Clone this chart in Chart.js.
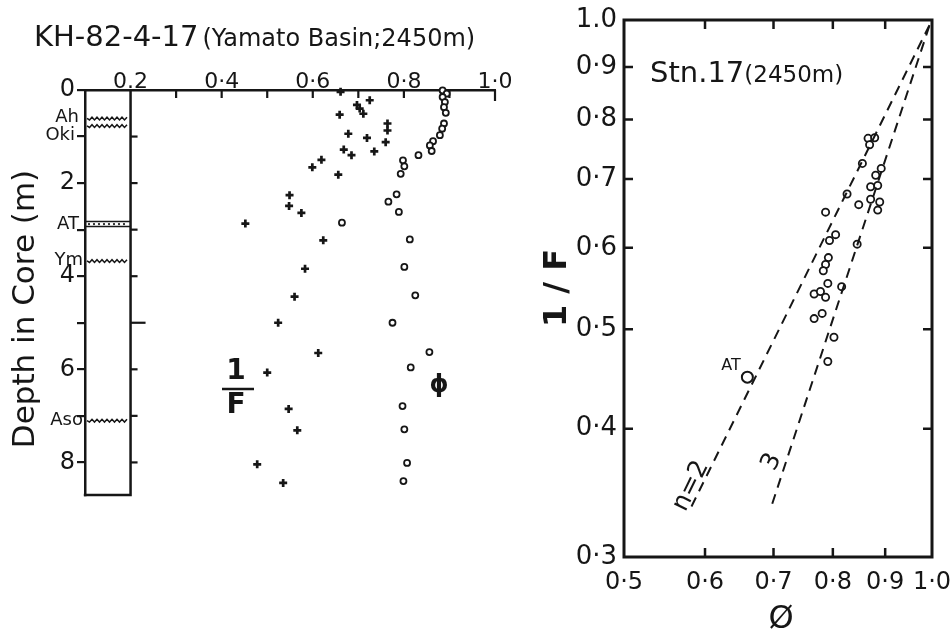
<!DOCTYPE html>
<html>
<head>
<meta charset="utf-8">
<script src="https://cdn.jsdelivr.net/npm/chart.js@4.4.1/dist/chart.umd.min.js"></script>
<style>
  body { margin: 0; background: #fff; }
  #wrap { position: relative; width: 952px; height: 637px; overflow: hidden; }
  canvas { position: absolute; top: 0; }
  #profile { left: 0; }
  #archie { left: 540px; }
</style>
</head>
<body>
<div id="wrap">
  <canvas id="profile" width="520" height="520"></canvas>
  <canvas id="archie" width="412" height="637"></canvas>
</div>
<script>
// ---- left panel: core KH-82-4-17, values against depth (m) ----
const invFDepth = [0.04, 0.22, 0.32, 0.40, 0.51, 0.53, 0.72, 0.87, 0.94, 1.03, 1.12, 1.28, 1.32, 1.40,
                   1.50, 1.66, 1.82, 2.26, 2.49, 2.64, 2.87, 3.23, 3.84, 4.44, 5.00, 5.65, 6.07, 6.85,
                   7.31, 8.04, 8.44];
const invFValue = [0.661, 0.725, 0.697, 0.703, 0.711, 0.659, 0.764, 0.764, 0.678, 0.719, 0.760, 0.668,
                   0.735, 0.685, 0.619, 0.599, 0.656, 0.549, 0.548, 0.575, 0.452, 0.623, 0.583, 0.560,
                   0.524, 0.612, 0.500, 0.547, 0.566, 0.478, 0.535];
const phiDepth = [0.01, 0.08, 0.15, 0.26, 0.37, 0.49, 0.72, 0.83, 0.97, 1.10, 1.19, 1.31, 1.40, 1.51,
                  1.64, 1.80, 2.24, 2.40, 2.62, 2.85, 3.21, 3.80, 4.41, 5.00, 5.63, 5.96, 6.79, 7.29,
                  8.01, 8.40];
const phiValue = [0.885, 0.894, 0.885, 0.890, 0.888, 0.892, 0.888, 0.884, 0.879, 0.864, 0.857, 0.861,
                  0.832, 0.798, 0.801, 0.793, 0.784, 0.766, 0.789, 0.664, 0.813, 0.801, 0.825, 0.775,
                  0.856, 0.815, 0.797, 0.801, 0.807, 0.799];
const tephraNames = ['Ah', 'Oki', 'AT', 'Ym', 'Aso'];
const tephraDepths = [0.61, 0.77, 2.88, 3.67, 7.10];
const profileTickValues = [0.2, 0.4, 0.6, 0.8, 1.0];
const profileTickLabels = ['0.2', '0·4', '0·6', '0·8', '1·0'];
const depthTickLabels = ['0', '2', '4', '6', '8'];

// ---- right panel: Stn.17, 1/F against porosity ----
const crossPhi = [0.787, 0.866, 0.879, 0.869, 0.855, 0.892, 0.881, 0.871, 0.885, 0.826, 0.871, 0.889,
                  0.848, 0.885, 0.805, 0.794, 0.845, 0.792, 0.787, 0.783, 0.791, 0.816, 0.767, 0.778,
                  0.787, 0.767, 0.781, 0.802, 0.791];
const crossInvF = [0.650, 0.767, 0.768, 0.756, 0.725, 0.717, 0.706, 0.688, 0.690, 0.677, 0.669, 0.665,
                   0.661, 0.653, 0.618, 0.610, 0.605, 0.587, 0.578, 0.570, 0.554, 0.550, 0.541, 0.544,
                   0.537, 0.512, 0.518, 0.491, 0.465];
const atPhi = [0.660];
const atInvF = [0.449];
const n2Phi = [0.582, 0.995];
const n2InvF = [0.336, 0.990];
const n3Phi = [0.698, 0.995];
const n3InvF = [0.338, 0.990];
const crossXTicks = [0.5, 0.6, 0.7, 0.8, 0.9, 1.0];
const crossXLabels = ['0·5', '0·6', '0·7', '0·8', '0·9', '1·0'];
const crossYTicks = [0.3, 0.4, 0.5, 0.6, 0.7, 0.8, 0.9, 1.0];
const crossYLabels = ['0·3', '0·4', '0·5', '0·6', '0·7', '0·8', '0·9', '1.0'];

const INK = '#161616';
const FONT = '"DejaVu Sans", sans-serif';
const pts = (xs, ys) => xs.map((v, i) => ({ x: v, y: ys[i] }));
const labelFor = (vals, labels, v) => {
  const i = vals.findIndex(t => Math.abs(t - v) < 1e-6);
  return i < 0 ? '' : labels[i];
};
// keep the plot area where it is: labels may hang over the edges
const noOverhang = s => { s.paddingLeft = 0; s.paddingRight = 0; s.paddingTop = 0; s.paddingBottom = 0; };

function wavy(ctx, x0, x1, y) {
  ctx.beginPath();
  ctx.moveTo(x0, y);
  let k = 0;
  for (let x = x0 + 2.5; x <= x1 + 0.1; x += 2.5) {
    ctx.lineTo(x, y + (k % 2 === 0 ? 1.6 : -1.2));
    k++;
  }
  ctx.stroke();
}

const profileDecor = {
  id: 'profileDecor',
  beforeDatasetsDraw(chart) {
    const { ctx, scales: { x, y } } = chart;
    const colL = x.getPixelForValue(0.1), colR = x.getPixelForValue(0.2);
    const top = y.getPixelForValue(0), bot = y.getPixelForValue(y.max);
    ctx.save();
    ctx.strokeStyle = INK;
    ctx.fillStyle = INK;
    // column right edge and base
    ctx.lineWidth = 2.5;
    ctx.beginPath();
    ctx.moveTo(colR, top);
    ctx.lineTo(colR, bot);
    ctx.lineTo(colL - 1.2, bot);
    ctx.stroke();
    // ticks on right of column
    ctx.lineWidth = 2.2;
    for (let d = 1; d <= 8; d++) {
      const py = y.getPixelForValue(d);
      ctx.beginPath();
      ctx.moveTo(colR, py);
      ctx.lineTo(colR + (d === 5 ? 15 : 7), py);
      ctx.stroke();
    }
    // inward ticks on top axis
    for (let k = 3; k <= 10; k++) {
      const px = x.getPixelForValue(k / 10);
      ctx.beginPath();
      ctx.moveTo(px, top);
      ctx.lineTo(px, top + (k === 10 ? 11 : 8));
      ctx.stroke();
    }
    // tephra layers
    ctx.lineWidth = 1.5;
    tephraNames.forEach((name, i) => {
      const py = y.getPixelForValue(tephraDepths[i]);
      if (name === 'AT') {
        ctx.beginPath();
        ctx.moveTo(colL, py - 2.6); ctx.lineTo(colR, py - 2.6);
        ctx.moveTo(colL, py + 2.4); ctx.lineTo(colR, py + 2.4);
        ctx.stroke();
        for (let px = colL + 4; px < colR - 2; px += 5) {
          ctx.beginPath(); ctx.arc(px, py, 1.1, 0, Math.PI * 2); ctx.fill();
        }
      } else {
        wavy(ctx, colL + 2, colR - 2, py);
      }
    });
    ctx.restore();
  },
  afterDraw(chart) {
    const { ctx, scales: { y } } = chart;
    ctx.save();
    ctx.fillStyle = INK;
    ctx.strokeStyle = INK;
    // tephra names
    ctx.font = '18px ' + FONT;
    ctx.textAlign = 'right';
    ctx.textBaseline = 'middle';
    const shift = { Ah: -1, Oki: 9, AT: 0, Ym: -1, Aso: 0 };
    const edge = { Ah: 79, Oki: 75, AT: 79, Ym: 83, Aso: 83 };
    tephraNames.forEach((name, i) => {
      const py = y.getPixelForValue(tephraDepths[i]);
      ctx.fillText(name, edge[name], py + shift[name]);
    });
    // title
    ctx.textAlign = 'left';
    ctx.textBaseline = 'alphabetic';
    ctx.font = '29px ' + FONT;
    ctx.fillText('KH-82-4-17', 34, 46);
    const w = ctx.measureText('KH-82-4-17').width;
    ctx.font = '24px ' + FONT;
    ctx.fillText('(Yamato Basin;2450m)', 34 + w + 4, 46);
    // depth axis title
    ctx.save();
    ctx.translate(26, 309);
    ctx.rotate(-Math.PI / 2);
    ctx.textAlign = 'center';
    ctx.textBaseline = 'middle';
    ctx.font = '31px ' + FONT;
    ctx.fillText('Depth in Core (m)', 0, 0);
    ctx.restore();
    // series labels
    ctx.textAlign = 'center';
    ctx.textBaseline = 'middle';
    ctx.font = 'bold 28px ' + FONT;
    ctx.fillText('1', 236, 372);
    ctx.fillText('F', 236, 406);
    ctx.lineWidth = 2.5;
    ctx.beginPath(); ctx.moveTo(222, 389); ctx.lineTo(254, 389); ctx.stroke();
    ctx.font = 'bold 24px ' + FONT;
    ctx.fillText('ϕ', 439, 386);
    ctx.restore();
  }
};

new Chart(document.getElementById('profile'), {
  type: 'scatter',
  data: {
    datasets: [
      {
        label: '1/F',
        data: pts(invFValue, invFDepth),
        pointStyle: 'cross',
        pointRadius: 4,
        borderWidth: 2.7,
        borderColor: INK,
        clip: false
      },
      {
        label: 'phi',
        data: pts(phiValue, phiDepth),
        pointStyle: 'circle',
        pointRadius: 3,
        borderWidth: 1.8,
        borderColor: INK,
        backgroundColor: '#fff',
        clip: false
      }
    ]
  },
  options: {
    responsive: false,
    animation: false,
    events: [],
    layout: { padding: { left: 0, right: 25, top: 0, bottom: 25 } },
    plugins: { legend: { display: false }, tooltip: { enabled: false } },
    scales: {
      x: {
        type: 'linear',
        position: 'top',
        min: 0.1,
        max: 1.0,
        afterFit: s => { noOverhang(s); s.height = 90; },
        grid: { display: false, drawTicks: false },
        border: { display: true, width: 2.5, color: INK },
        ticks: {
          stepSize: 0.1,
          autoSkip: false,
          maxRotation: 0,
          padding: -5,
          color: INK,
          font: { family: FONT, size: 22 },
          callback: v => labelFor(profileTickValues, profileTickLabels, v)
        }
      },
      y: {
        type: 'linear',
        reverse: true,
        min: 0,
        max: 8.7,
        afterFit: s => { noOverhang(s); s.width = 85; },
        grid: { display: true, drawOnChartArea: false, tickLength: 8, lineWidth: 2.2, color: INK },
        border: { display: true, width: 2.5, color: INK },
        ticks: {
          stepSize: 1,
          includeBounds: false,
          autoSkip: false,
          padding: 2,
          color: INK,
          font: { family: FONT, size: 24 },
          callback: v => (v % 2 === 0 ? depthTickLabels[v / 2] : '')
        }
      }
    }
  },
  plugins: [profileDecor]
});

// ---- right panel ----
const archieDecor = {
  id: 'archieDecor',
  beforeDatasetsDraw(chart) {
    const { ctx, scales: { x, y } } = chart;
    const l = x.getPixelForValue(0.5), r = x.getPixelForValue(1.0);
    const t = y.getPixelForValue(1.0), b = y.getPixelForValue(0.3);
    ctx.save();
    ctx.strokeStyle = INK;
    ctx.lineWidth = 3;
    ctx.strokeRect(l, t, r - l, b - t);
    ctx.lineWidth = 2.5;
    crossXTicks.slice(1, -1).forEach(v => {
      const px = x.getPixelForValue(v);
      ctx.beginPath();
      ctx.moveTo(px, t); ctx.lineTo(px, t + 9);
      ctx.moveTo(px, b); ctx.lineTo(px, b - 9);
      ctx.stroke();
    });
    crossYTicks.slice(1, -1).forEach(v => {
      const py = y.getPixelForValue(v);
      ctx.beginPath();
      ctx.moveTo(l, py); ctx.lineTo(l + 9, py);
      ctx.moveTo(r, py); ctx.lineTo(r - 9, py);
      ctx.stroke();
    });
    ctx.restore();
  },
  afterDraw(chart) {
    const { ctx } = chart;
    ctx.save();
    ctx.fillStyle = INK;
    ctx.textBaseline = 'alphabetic';
    ctx.textAlign = 'left';
    ctx.font = '29px ' + FONT;
    ctx.fillText('Stn.17', 110, 82);
    const w = ctx.measureText('Stn.17').width;
    ctx.font = '23px ' + FONT;
    ctx.fillText('(2450m)', 110 + w, 82);
    // axis titles
    ctx.textAlign = 'center';
    ctx.textBaseline = 'middle';
    ctx.save();
    ctx.translate(18, 288);
    ctx.rotate(-Math.PI / 2);
    ctx.font = 'bold 32px ' + FONT;
    ctx.fillText('1 / F', 0, 0);
    ctx.restore();
    ctx.font = '32px ' + FONT;
    ctx.fillText('Ø', 241, 620);
    // annotations
    ctx.font = '16px ' + FONT;
    ctx.fillText('AT', 191, 366);
    const ang = -64 * Math.PI / 180;
    ctx.font = '25px ' + FONT;
    ctx.save();
    ctx.translate(151, 486);
    ctx.rotate(ang);
    ctx.fillText('n=2', 0, 0);
    ctx.restore();
    ctx.save();
    ctx.translate(232, 462);
    ctx.rotate(ang);
    ctx.fillText('3', 0, 0);
    ctx.restore();
    ctx.restore();
  }
};

new Chart(document.getElementById('archie'), {
  type: 'scatter',
  data: {
    datasets: [
      {
        label: 'n=2',
        data: pts(n2Phi, n2InvF),
        showLine: true,
        borderDash: [10, 7],
        borderWidth: 2,
        borderColor: INK,
        pointRadius: 0,
        fill: false
      },
      {
        label: 'n=3',
        data: pts(n3Phi, n3InvF),
        showLine: true,
        borderDash: [10, 7],
        borderWidth: 2,
        borderColor: INK,
        pointRadius: 0,
        fill: false
      },
      {
        label: 'Stn.17',
        data: pts(crossPhi, crossInvF),
        pointStyle: 'circle',
        pointRadius: 3.6,
        borderWidth: 1.8,
        borderColor: INK,
        backgroundColor: '#fff'
      },
      {
        label: 'AT',
        data: pts(atPhi, atInvF),
        pointStyle: 'circle',
        pointRadius: 5.5,
        borderWidth: 2,
        borderColor: INK,
        backgroundColor: '#fff'
      },
      {
        label: 'AT centre',
        data: pts(atPhi, atInvF),
        pointStyle: 'circle',
        pointRadius: 1.4,
        borderWidth: 0,
        backgroundColor: INK
      }
    ]
  },
  options: {
    responsive: false,
    animation: false,
    events: [],
    layout: { padding: { left: 0, right: 20, top: 20, bottom: 20 } },
    plugins: { legend: { display: false }, tooltip: { enabled: false } },
    scales: {
      x: {
        type: 'logarithmic',
        position: 'bottom',
        min: 0.5,
        max: 1.0,
        afterBuildTicks: s => { s.ticks = crossXTicks.map(v => ({ value: v })); },
        afterFit: s => { noOverhang(s); s.height = 60; },
        grid: { display: false, drawTicks: false },
        border: { display: false },
        ticks: {
          autoSkip: false,
          maxRotation: 0,
          padding: 11,
          color: INK,
          font: { family: FONT, size: 24 },
          callback: v => labelFor(crossXTicks, crossXLabels, v)
        }
      },
      y: {
        type: 'logarithmic',
        min: 0.3,
        max: 1.0,
        afterBuildTicks: s => { s.ticks = crossYTicks.map(v => ({ value: v })); },
        afterFit: s => { noOverhang(s); s.width = 84; },
        grid: { display: false, drawTicks: false },
        border: { display: false },
        ticks: {
          autoSkip: false,
          padding: 7,
          color: INK,
          font: { family: FONT, size: 26 },
          callback: v => labelFor(crossYTicks, crossYLabels, v)
        }
      }
    }
  },
  plugins: [archieDecor]
});
</script>
</body>
</html>
